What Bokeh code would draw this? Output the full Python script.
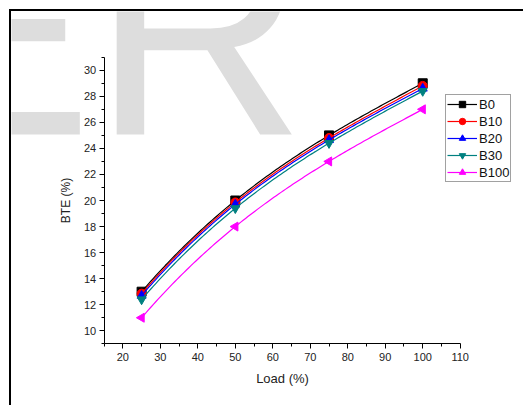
import numpy as np
from bokeh.plotting import figure
from bokeh.models import FixedTicker, Legend, LegendItem, Label
from bokeh.embed import file_html
from bokeh.resources import INLINE

load = [25, 50, 75, 100]
b0 = [13.0, 20.0, 25.0, 29.0]
b10 = [12.85, 19.85, 24.8, 28.8]
b20 = [12.7, 19.7, 24.65, 28.6]
b30 = [12.4, 19.4, 24.4, 28.4]
b100 = [11.0, 18.0, 23.0, 27.0]

series_names = ["B0", "B10", "B20", "B30", "B100"]
series_vals = [b0, b10, b20, b30, b100]
colors = ["#000000", "#ff0000", "#0000ff", "#008080", "#ff00ff"]
markers = ["square", "circle", "triangle", "inverted_triangle", "triangle"]
angles = [0, 0, 0, 0, np.pi / 2]

x_major = [20, 30, 40, 50, 60, 70, 80, 90, 100, 110]
x_minor = [15, 25, 35, 45, 55, 65, 75, 85, 95, 105]
y_major = [10, 12, 14, 16, 18, 20, 22, 24, 26, 28, 30]
y_minor = [9, 11, 13, 15, 17, 19, 21, 23, 25, 27, 29, 31]

p = figure(width=514, height=396, x_range=(-9.71, 127.42), y_range=(4.11, 34.51),
           output_backend="svg", toolbar_location=None, min_border=0,
           min_border_left=0, min_border_right=0, min_border_top=0, min_border_bottom=0)
p.styles = {"margin-top": "9px", "margin-left": "9px",
            "border-top": "2px solid black", "border-left": "2px solid black"}
p.outline_line_color = None
p.xgrid.visible = False
p.ygrid.visible = False

wm = Label(x=-40.6, y=32.9, text="ER",
           text_font="Liberation Sans", text_font_size="295px", text_color="#dddddd",
           text_baseline="alphabetic", level="underlay")
p.add_layout(wm)

font = "Liberation Sans"
for ax in (p.xaxis[0], p.yaxis[0]):
    ax.major_tick_in = 0
    ax.major_tick_out = 5
    ax.minor_tick_in = 0
    ax.minor_tick_out = 3
    ax.axis_line_color = "black"
    ax.major_tick_line_color = "black"
    ax.minor_tick_line_color = "black"
    ax.major_label_text_font = font
    ax.major_label_text_font_size = "11px"
    ax.major_label_text_color = "#222222"
    ax.axis_label_text_font = font
    ax.axis_label_text_font_style = "normal"
    ax.axis_label_text_color = "#222222"

p.xaxis.ticker = FixedTicker(ticks=x_major, minor_ticks=x_minor)
p.yaxis.ticker = FixedTicker(ticks=y_major, minor_ticks=y_minor)
p.xaxis.bounds = (15, 110)
p.yaxis.bounds = (9, 31)
p.xaxis.fixed_location = 9
p.yaxis.fixed_location = 15
p.xaxis.axis_label = "Load (%)"
p.yaxis.axis_label = "BTE (%)"
p.xaxis.axis_label_text_font_size = "13px"
p.yaxis.axis_label_text_font_size = "12px"
p.xaxis.major_label_standoff = 4
p.yaxis.major_label_standoff = 3
p.xaxis.axis_label_standoff = 7
p.yaxis.axis_label_standoff = 8

xs_fine = np.linspace(min(load), max(load), 120)
items = []
for name, vals, c, m, a in zip(series_names, series_vals, colors, markers, angles):
    coef = np.polyfit(load, vals, 3)
    ys_fine = np.polyval(coef, xs_fine)
    r1 = p.line(xs_fine, ys_fine, line_color=c, line_width=1.2)
    r2 = p.scatter(load, vals, marker=m, size=9, angle=a, fill_color=c, line_color=c)
    items.append(LegendItem(label=name, renderers=[r1, r2]))

leg = Legend(items=items, location=(434, 225))
leg.label_text_font = font
leg.label_text_font_size = "13px"
leg.label_text_color = "#111111"
leg.glyph_width = 30
leg.glyph_height = 16
leg.label_height = 16
leg.spacing = 1
leg.padding = 1
leg.margin = 0
leg.label_standoff = 2
leg.border_line_color = "#444444"
leg.border_line_width = 1
leg.background_fill_alpha = 1
p.add_layout(leg)

open("out.html", "w").write(file_html(p, INLINE))
